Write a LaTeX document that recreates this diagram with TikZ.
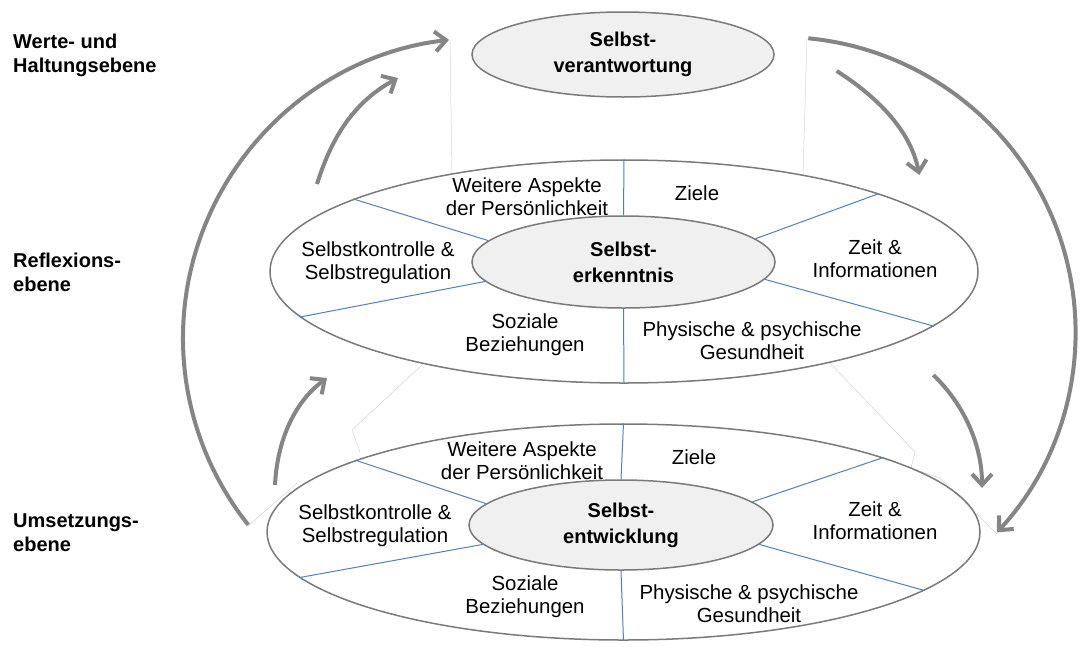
\documentclass[tikz,border=0pt]{standalone}
\usepackage{fontspec}
\setmainfont{Liberation Sans}
\usetikzlibrary{shapes.geometric,arrows.meta}
\definecolor{elgray}{HTML}{7A7A7A}
\definecolor{arrgray}{HTML}{858585}
\definecolor{fillgray}{HTML}{F0F0F0}
\definecolor{segblue}{HTML}{4F81BD}
\definecolor{faintgray}{HTML}{D4D4D4}
\begin{document}
\begin{tikzpicture}[x=1pt,y=-1pt,
  bigell/.style={ellipse, draw=elgray, line width=1.5pt, inner sep=0pt},
  coreell/.style={ellipse, draw=elgray, line width=1.5pt, fill=fillgray, inner sep=0pt,
    align=center, font=\bfseries\fontsize{20}{26}\selectfont},
  lbl/.style={align=center, inner sep=0pt, font=\fontsize{20.4}{23}\selectfont},
  lvl/.style={align=left, anchor=west, inner sep=0pt, font=\bfseries\fontsize{20}{24}\selectfont},
  seg/.style={draw=segblue, line width=1pt},
  flow/.style={draw=arrgray, line width=4pt, -{Straight Barb[length=11pt,width=20pt]}},
  faintline/.style={draw=faintgray, line width=0.5pt}]
\useasboundingbox[fill=white] (0,0) rectangle (1081,646);

% faint projection lines
\draw[faintline] (450,42) -- (452,174);
\draw[faintline] (807,38) -- (803,175);
\draw[faintline] (423,364) -- (352,430) -- (360,452);
\draw[faintline] (297,483) -- (248,526);
\draw[faintline] (830,363) -- (915,452) -- (911,468) -- (940,478) -- (997,534);

% outer ellipses
\node[bigell, minimum width=708pt, minimum height=223pt] (outm) at (624,271.5) {};
\node[bigell, minimum width=713pt, minimum height=216pt] (outb) at (623.5,532) {};

% core ellipses
\node[coreell, minimum width=302pt, minimum height=85pt] (top) at (623,54.5) {Selbst-\\verantwortung};
\node[coreell, minimum width=303pt, minimum height=92pt] (corem) at (623.5,262) {Selbst-\\erkenntnis};
\node[coreell, minimum width=304pt, minimum height=90pt] (coreb) at (621,525) {Selbst-\\entwicklung};

% segment lines, middle
\draw[seg] (corem.north) -- (outm.north);
\draw[seg] (corem.south) -- (outm.south);
\draw[seg] (outm.165.3) -- (corem.171.8);
\draw[seg] (outm.188.5) -- (corem.188.1);
\draw[seg] (outm.17.5) -- (corem.10.6);
\draw[seg] (outm.-10.8) -- (corem.-7.8);

% segment lines, bottom
\draw[seg] (coreb.north) -- (outb.north);
\draw[seg] (coreb.south) -- (outb.south);
\draw[seg] (outb.165.8) -- (coreb.171.3);
\draw[seg] (outb.188.9) -- (coreb.188.1);
\draw[seg] (outb.16.9) -- (coreb.10.5);
\draw[seg] (outb.-11.3) -- (coreb.-8.1);

% labels middle
\node[lbl] (mwa) at (527,197) {Weitere Aspekte\\der Persönlichkeit};
\node[lbl] (mzi) at (697,193) {Ziele};
\node[lbl] (msk) at (378,263) {Selbstkontrolle \&\\Selbstregulation};
\node[lbl] (mzt) at (875,259) {Zeit \&\\Informationen};
\node[lbl] (msb) at (525,335) {Soziale\\Beziehungen};
\node[lbl] (mpg) at (752,341) {Physische \& psychische\\Gesundheit};

% labels bottom
\node[lbl] (bwa) at (522,461) {Weitere Aspekte\\der Persönlichkeit};
\node[lbl] (bzi) at (694,457) {Ziele};
\node[lbl] (bsk) at (375,526) {Selbstkontrolle \&\\Selbstregulation};
\node[lbl] (bzt) at (875,521) {Zeit \&\\Informationen};
\node[lbl] (bsb) at (525,597) {Soziale\\Beziehungen};
\node[lbl] (bpg) at (749,604) {Physische \& psychische\\Gesundheit};

% level labels
\node[lvl] (lv1) at (13,55) {Werte- und\\Haltungsebene};
\node[lvl] (lv2) at (13,272) {Reflexions-\\ebene};
\node[lvl] (lv3) at (13,533) {Umsetzungs-\\ebene};

% arrows
\coordinate (bl0) at (248.2,524.8);
\coordinate (blm) at (205.8,223.2);
\coordinate (bl1) at (449.0,39.9);
\draw[flow] (bl0) .. controls (180.3,439.5) and (164.1,324.0) .. (blm)
                  .. controls (247.5,122.4) and (340.6,52.2) .. (bl1);

\coordinate (br0) at (808.3,38.3);
\coordinate (brm) at (1056.1,226.8);
\coordinate (br1) at (996.9,532.4);
\draw[flow] (br0) .. controls (920.0,48.9) and (1016.1,122.0) .. (brm)
                  .. controls (1096.1,331.6) and (1073.1,450.1) .. (br1);

\coordinate (lm0) at (317,184);
\coordinate (lm1) at (398,78);
\draw[flow] (lm0) .. controls (332,136.5) and (354,102) .. (lm1);

\coordinate (lb0) at (275,485);
\coordinate (lb1) at (327,378);
\draw[flow] (lb0) .. controls (277,443) and (293,403) .. (lb1);

\coordinate (rt0) at (836.7,71);
\coordinate (rt1) at (919.3,175);
\draw[flow] (rt0) .. controls (875.8,95.9) and (910.5,129.6) .. (rt1);

\coordinate (rm0) at (933.3,375);
\coordinate (rm1) at (982,488);
\draw[flow] (rm0) .. controls (964.2,404.5) and (982,445.3) .. (rm1);
\end{tikzpicture}
\end{document}
